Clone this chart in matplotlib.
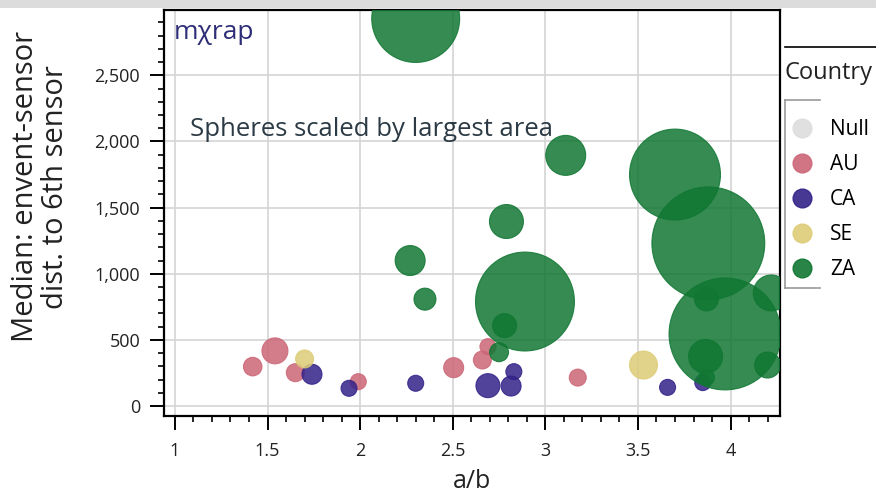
import matplotlib
matplotlib.use("Agg")
import numpy as np
from matplotlib import pyplot as plt
from matplotlib.lines import Line2D
from matplotlib.patches import Rectangle
from matplotlib.ticker import MultipleLocator, FuncFormatter

plt.rcParams["font.family"] = ["Open Sans", "DejaVu Sans"]

# Country categories and colours (legend order)
countries = ["Null", "AU", "CA", "SE", "ZA"]
colors = {"Null": "#DDDDDD", "AU": "#CC6677", "CA": "#332288",
          "SE": "#DDCC77", "ZA": "#117733"}

# a/b ratio, median event-sensor distance, bubble area (relative)
au_x = [1.42, 1.54, 1.65, 1.99, 2.505, 2.66, 2.69, 3.175]
au_y = [298, 417, 252, 184, 290, 348, 449, 215]
au_area = [86, 169, 81, 64, 100, 81, 64, 72]

ca_x = [1.74, 1.94, 2.30, 2.69, 2.815, 2.83, 3.66, 3.85]
ca_y = [240, 134, 172, 154, 151, 260, 141, 177]
ca_area = [100, 64, 64, 144, 100, 64, 64, 64]

se_x = [1.70, 3.53]
se_y = [356, 310]
se_area = [81, 196]

za_x = [2.30, 3.11, 3.70, 3.88, 3.97, 2.89, 2.79, 2.27, 2.35, 2.78, 2.75,
        4.22, 3.87, 3.865, 4.20, 3.87]
za_y = [2930, 1895, 1750, 1230, 545, 790, 1395, 1100, 808, 608, 407,
        855, 810, 375, 310, 215]
za_area = [1936, 400, 2070, 3190, 3136, 2450, 289, 225, 121, 144, 90,
           324, 144, 289, 169, 64]

series = [("AU", au_x, au_y, au_area), ("CA", ca_x, ca_y, ca_area),
          ("SE", se_x, se_y, se_area), ("ZA", za_x, za_y, za_area)]

fig = plt.figure(figsize=(8.76, 4.94), dpi=100)
ax = fig.add_axes([0.187, 0.158, 0.703, 0.822])

# Grey strip along the top edge
fig.add_artist(Rectangle((0, 0.984), 1, 0.016, transform=fig.transFigure,
                         facecolor="#dcdcdc", edgecolor="none"))

scale = 2.07  # px^2 -> pt^2 at 100 dpi
for name, xs, ys, areas in series:
    xs, ys, areas = np.array(xs), np.array(ys), np.array(areas)
    order = np.argsort(-areas)  # big bubbles underneath
    ax.scatter(xs[order], ys[order], s=areas[order] * scale,
               color=colors[name], alpha=0.85, edgecolors=colors[name],
               linewidths=0.8, zorder=3)

ax.set_xlim(0.94, 4.265)
ax.set_ylim(-75, 2995)

ax.xaxis.set_major_locator(MultipleLocator(0.5))
ax.xaxis.set_minor_locator(MultipleLocator(0.1))
ax.yaxis.set_major_locator(MultipleLocator(500))
ax.yaxis.set_minor_locator(MultipleLocator(100))
ax.xaxis.set_major_formatter(FuncFormatter(lambda v, p: f"{v:g}"))
ax.yaxis.set_major_formatter(FuncFormatter(lambda v, p: f"{v:,.0f}"))

ax.grid(True, which="major", color="#d4d4d4", linewidth=1.2, zorder=0)
ax.set_axisbelow(True)
for side in ax.spines.values():
    side.set_linewidth(1.6)
    side.set_color("black")
ax.tick_params(which="major", direction="out", length=10, width=1.4,
               labelsize=13, colors="black")
ax.tick_params(which="minor", direction="out", length=4.5, width=1.2)
ax.tick_params(axis="x", which="major", pad=9)
ax.tick_params(axis="y", which="major", pad=7)
for lbl in ax.get_xticklabels() + ax.get_yticklabels():
    lbl.set_color("#222222")

ax.set_xlabel("a/b", fontsize=18, color="#222222", labelpad=6)
ax.set_ylabel("Median: envent-sensor\ndist. to 6th sensor", fontsize=21,
              color="#222222", linespacing=1.04)
ax.yaxis.set_label_coords(-0.152, 0.564)

ax.text(0.016, 0.945, "m\u03c7rap", transform=ax.transAxes, fontsize=19,
        color="#2e2e78", ha="left", va="center", zorder=5)
ax.text(0.042, 0.706, "Spheres scaled by largest area", transform=ax.transAxes,
        fontsize=18.5, color="#2b3a44", ha="left", va="center", zorder=5)

# Legend on the right
fig.add_artist(Line2D([0.896, 1.0], [0.905, 0.905], transform=fig.transFigure,
                      color="black", linewidth=1.2))
fig.text(0.896, 0.852, "Country", fontsize=17, color="#222222",
         ha="left", va="center")
for yy in (0.798, 0.418):
    fig.add_artist(Line2D([0.896, 0.936], [yy, yy], transform=fig.transFigure,
                          color="#999999", linewidth=1.2))
fig.add_artist(Line2D([0.896, 0.896], [0.418, 0.798], transform=fig.transFigure,
                      color="#999999", linewidth=1.2))
handles = [Line2D([], [], marker="o", linestyle="none", markersize=13.5,
                  markerfacecolor=colors[c], markeredgecolor=colors[c],
                  alpha=0.9, label=c) for c in countries]
fig.legend(handles=handles, loc="upper left", bbox_to_anchor=(0.901, 0.759),
           frameon=False, fontsize=15, labelspacing=0.67, handletextpad=0.75,
           handlelength=1.2, borderaxespad=0, borderpad=0)

fig.savefig("out.png", dpi=100)
